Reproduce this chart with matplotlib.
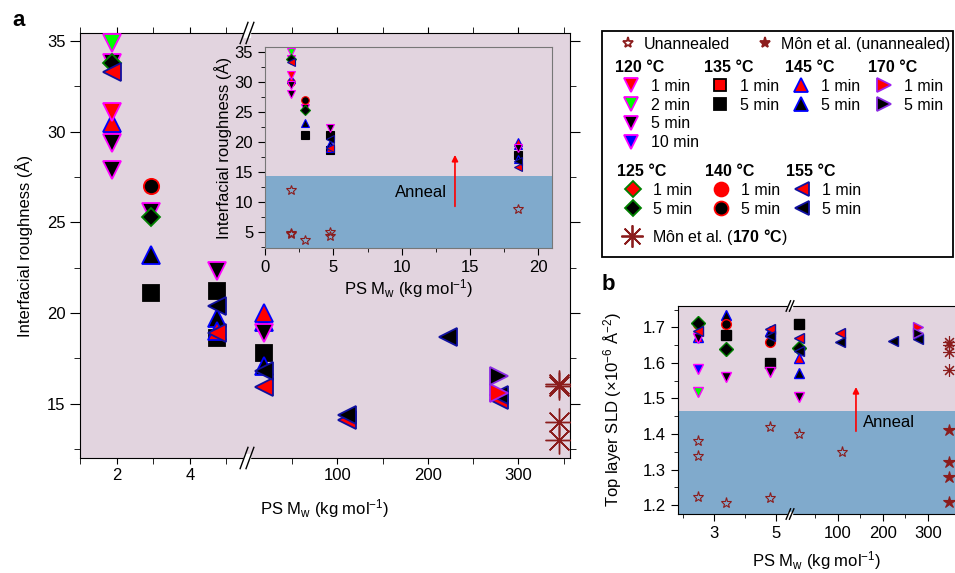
import numpy as np
import matplotlib
matplotlib.use('Agg')
import matplotlib.pyplot as plt
from matplotlib.lines import Line2D
from matplotlib.patches import Rectangle
from matplotlib.ticker import FixedLocator, NullFormatter

plt.rcParams['font.family'] = ['Liberation Sans', 'DejaVu Sans']
plt.rcParams['mathtext.fontset'] = 'custom'
plt.rcParams['mathtext.rm'] = 'Liberation Sans'
plt.rcParams['mathtext.it'] = 'Liberation Sans:italic'
plt.rcParams['mathtext.bf'] = 'Liberation Sans:bold'
plt.rcParams['font.size'] = 12

W, H = 955, 573
PINK = '#e2d4df'
BLUE = '#80aacc'
DRED = '#8b1c1c'

# ---------------- panel a : interfacial roughness (Å) vs PS Mw (kg/mol)
a_120_1_x = [1.87];  a_120_1_y = [31.1]
a_120_2_x = [1.87];  a_120_2_y = [34.9]
a_120_5_x = [1.87, 1.87, 1.87, 2.93, 4.73, 18.5]
a_120_5_y = [33.8, 29.4, 27.9, 25.6, 22.3, 18.9]
a_125_5_x = [1.87, 2.93];  a_125_5_y = [33.8, 25.3]
a_140_1_x = [1.87];  a_140_1_y = [30.0]
a_140_5_x = [2.93];  a_140_5_y = [27.0]
a_135_5_x = [2.93, 4.73, 4.73, 18.5];  a_135_5_y = [21.1, 21.2, 18.6, 17.8]
a_145_1_x = [1.87, 4.73, 18.5];  a_145_1_y = [30.5, 19.0, 20.0]
a_145_5_x = [2.93, 4.73, 18.5, 18.5];  a_145_5_y = [23.2, 19.7, 19.5, 17.1]
a_155_1_x = [1.87, 4.73, 18.5, 110, 278];  a_155_1_y = [33.3, 18.9, 15.9, 14.1, 15.2]
a_155_5_x = [4.73, 18.5, 110, 222, 278];  a_155_5_y = [20.4, 16.8, 14.35, 18.7, 15.5]
a_170_1_x = [278];  a_170_1_y = [15.6]
a_170_5_x = [278];  a_170_5_y = [16.5]
a_mon_x = [345, 345, 345, 345];  a_mon_y = [16.1, 16.0, 14.0, 13.0]
# unannealed (inset only)
a_un_x = [1.87, 1.87, 1.87, 2.93, 4.73, 4.73, 18.5]
a_un_y = [12.0, 4.9, 4.7, 3.6, 5.0, 4.3, 8.8]

# ---------------- panel b : top layer SLD (1e-6 Å^-2)
b_120_2_x = [2.5];  b_120_2_y = [1.517]
b_120_5_x = [2.5, 3.38, 4.8, 13.5];  b_120_5_y = [1.669, 1.560, 1.575, 1.505]
b_120_10_x = [2.5];  b_120_10_y = [1.582]
b_125_5_x = [2.5, 3.38, 13.5];  b_125_5_y = [1.711, 1.638, 1.641]
b_140_1_x = [2.5];  b_140_1_y = [1.708]
b_140_5_x = [3.38, 4.8];  b_140_5_y = [1.709, 1.660]
b_135_5_x = [3.38, 4.8, 13.5];  b_135_5_y = [1.678, 1.599, 1.709]
b_145_1_x = [2.5, 13.5];  b_145_1_y = [1.673, 1.615]
b_145_5_x = [3.38, 4.8, 13.5];  b_145_5_y = [1.736, 1.690, 1.571]
b_155_1_x = [2.5, 4.8, 13.5, 104];  b_155_1_y = [1.690, 1.694, 1.671, 1.683]
b_155_5_x = [4.8, 13.5, 104, 223, 278];  b_155_5_y = [1.676, 1.633, 1.660, 1.662, 1.666]
b_170_1_x = [278];  b_170_1_y = [1.702]
b_170_5_x = [278];  b_170_5_y = [1.683]
b_un_x = [2.5, 2.5, 2.5, 3.38, 4.8, 4.8, 13.5, 110]
b_un_y = [1.379, 1.339, 1.222, 1.206, 1.421, 1.219, 1.40, 1.348]
b_monun_x = [347, 347, 347, 347];  b_monun_y = [1.41, 1.32, 1.28, 1.21]
b_mon_x = [347, 347, 347, 347];  b_mon_y = [1.66, 1.65, 1.63, 1.58]

STY = {
    '120_1': dict(marker='v', mfc='#ff0000', mec='#ff00ff'),
    '120_2': dict(marker='v', mfc='#00ff00', mec='#ff00ff'),
    '120_5': dict(marker='v', mfc='black', mec='#ff00ff'),
    '120_10': dict(marker='v', mfc='#0000ff', mec='#ff00ff'),
    '135_1': dict(marker='s', mfc='#ff0000', mec='black'),
    '135_5': dict(marker='s', mfc='black', mec='black'),
    '145_1': dict(marker='^', mfc='#ff0000', mec='#0000ff'),
    '145_5': dict(marker='^', mfc='black', mec='#0000ff'),
    '170_1': dict(marker='>', mfc='#ff0000', mec='#a020f0'),
    '170_5': dict(marker='>', mfc='black', mec='#8a2be2'),
    '125_1': dict(marker='D', mfc='#ff0000', mec='#008000'),
    '125_5': dict(marker='D', mfc='black', mec='#008000'),
    '140_1': dict(marker='o', mfc='#ff0000', mec='#ff0000'),
    '140_5': dict(marker='o', mfc='black', mec='#ff0000'),
    '155_1': dict(marker='<', mfc='#ff0000', mec='#1010a0'),
    '155_5': dict(marker='<', mfc='black', mec='#1010a0'),
    'un': dict(marker='*', mfc='none', mec=DRED),
    'monun': dict(marker='*', mfc=DRED, mec=DRED),
    'mon': dict(marker=(8, 2, 0), mfc=DRED, mec=DRED),
}
SIZE_A = {'v': 13, '^': 13, '<': 13, '>': 13, 's': 11, 'D': 9, 'o': 11}


def pts(ax, x, y, key, ms, mew=1.3):
    st = STY[key]
    ax.plot(x, y, ls='none', ms=ms, mew=mew, zorder=3, **st)


def broken(b, c, r):
    def fwd(x):
        x = np.asarray(x, dtype=float)
        return np.where(x <= b, x, c + x * r)

    def inv(y):
        y = np.asarray(y, dtype=float)
        return np.where(y <= b, y, np.maximum((y - c) / r, b))
    return fwd, inv


def break_marks(ax, xf):
    for yf in (0, 1):
        ax.add_patch(Rectangle((xf - 0.006, yf - 0.01), 0.012, 0.02, transform=ax.transAxes,
                               color='white', clip_on=False, zorder=5))
        for dx in (-0.006, 0.006):
            ax.plot([xf + dx - 0.008, xf + dx + 0.008], [yf - 0.025, yf + 0.025],
                    transform=ax.transAxes, color='black', lw=1, clip_on=False, zorder=6)


fig = plt.figure(figsize=(W / 100, H / 100), dpi=100)

# ---------------- main panel a
ax = fig.add_axes([80 / W, 1 - 458 / H, 490 / W, 425 / H])
ax.set_facecolor(PINK)
ax.set_xscale('function', functions=broken(5.5, 5.56, 0.02471))
ax.set_xlim(1, 357)
ax.set_ylim(12.0, 35.45)
ax.xaxis.set_major_locator(FixedLocator([2, 4, 100, 200, 300]))
ax.xaxis.set_minor_locator(FixedLocator([1, 3, 5, 50, 150, 250, 350]))
ax.xaxis.set_minor_formatter(NullFormatter())
ax.set_xticklabels(['2', '4', '100', '200', '300'])
ax.yaxis.set_major_locator(FixedLocator([15, 20, 25, 30, 35]))
ax.yaxis.set_minor_locator(FixedLocator([12.5, 17.5, 22.5, 27.5, 32.5]))
ax.tick_params(which='both', top=True, right=True, labelsize=12)
ax.tick_params(axis='x', which='both', length=4)
ax.tick_params(axis='y', which='major', length=7)
ax.tick_params(axis='y', which='minor', length=4)
ax.set_xlabel(r'PS M$_\mathrm{w}$ (kg mol$^{-1}$)', fontsize=12, labelpad=10)
ax.set_ylabel('Interfacial roughness (Å)', fontsize=12, labelpad=10)

pts(ax, a_135_5_x, a_135_5_y, '135_5', SIZE_A['s'])
pts(ax, a_140_1_x, a_140_1_y, '140_1', SIZE_A['o'])
pts(ax, a_145_5_x, a_145_5_y, '145_5', SIZE_A['^'])
pts(ax, a_145_1_x, a_145_1_y, '145_1', SIZE_A['^'])
pts(ax, a_120_5_x, a_120_5_y, '120_5', SIZE_A['v'])
pts(ax, a_120_1_x, a_120_1_y, '120_1', SIZE_A['v'])
pts(ax, a_120_2_x, a_120_2_y, '120_2', SIZE_A['v'])
pts(ax, a_125_5_x, a_125_5_y, '125_5', SIZE_A['D'])
pts(ax, a_140_5_x, a_140_5_y, '140_5', SIZE_A['o'])
pts(ax, a_155_1_x, a_155_1_y, '155_1', SIZE_A['<'])
pts(ax, a_155_5_x, a_155_5_y, '155_5', SIZE_A['<'])
pts(ax, a_170_1_x, a_170_1_y, '170_1', SIZE_A['>'])
pts(ax, a_170_5_x, a_170_5_y, '170_5', SIZE_A['>'])
pts(ax, a_mon_x, a_mon_y, 'mon', 20, mew=1.0)
break_marks(ax, (247 - 80) / 490)
fig.text(12 / W, 1 - 20 / H, 'a', fontsize=16, fontweight='bold', va='center')

# ---------------- inset
axi = fig.add_axes([265 / W, 1 - 248 / H, 287 / W, 201 / H])
axi.set_facecolor(PINK)
axi.axhspan(0, 14.3, color=BLUE, lw=0, zorder=0)
axi.set_xlim(0, 21)
axi.set_ylim(2.33, 35.8)
axi.xaxis.set_major_locator(FixedLocator([0, 5, 10, 15, 20]))
axi.xaxis.set_minor_locator(FixedLocator(np.arange(2.5, 21, 5)))
axi.yaxis.set_major_locator(FixedLocator([5, 10, 15, 20, 25, 30, 35]))
axi.yaxis.set_minor_locator(FixedLocator(np.arange(2.5, 36, 5)))
axi.tick_params(which='both', labelsize=12)
axi.tick_params(which='major', length=5)
axi.tick_params(which='minor', length=3)
for s in axi.spines.values():
    s.set_color('#777777')
axi.set_xlabel(r'PS M$_\mathrm{w}$ (kg mol$^{-1}$)', fontsize=12, labelpad=2)
axi.set_ylabel('Interfacial roughness (Å)', fontsize=12, labelpad=2)
for xs, ys, k in [(a_135_5_x, a_135_5_y, '135_5'), (a_140_1_x, a_140_1_y, '140_1'),
                  (a_145_5_x, a_145_5_y, '145_5'), (a_145_1_x, a_145_1_y, '145_1'),
                  (a_120_5_x, a_120_5_y, '120_5'), (a_120_1_x, a_120_1_y, '120_1'),
                  (a_120_2_x, a_120_2_y, '120_2'), (a_125_5_x, a_125_5_y, '125_5'),
                  (a_140_5_x, a_140_5_y, '140_5'), (a_155_1_x, a_155_1_y, '155_1'),
                  (a_155_5_x, a_155_5_y, '155_5')]:
    pts(axi, xs, ys, k, 5.5, mew=0.8)
pts(axi, a_un_x, a_un_y, 'un', 7, mew=0.8)
axi.annotate('', xy=(13.9, 18.3), xytext=(13.9, 8.8),
             arrowprops=dict(arrowstyle='-|>', color='red', lw=1.2, mutation_scale=9))
axi.text(11.4, 11.5, 'Anneal', fontsize=12, ha='center', va='center')

# ---------------- panel b
axb = fig.add_axes([678 / W, 1 - 514 / H, 277 / W, 208 / H])
axb.set_facecolor(PINK)
axb.axhspan(1.0, 1.466, color=BLUE, lw=0, zorder=0)
axb.set_xscale('function', functions=broken(5.45, 5.548, 0.01452))
axb.set_xlim(1.84, 360)
axb.set_ylim(1.175, 1.76)
axb.xaxis.set_major_locator(FixedLocator([3, 5, 100, 200, 300]))
axb.xaxis.set_minor_locator(FixedLocator([2, 4, 50, 150, 250]))
axb.xaxis.set_minor_formatter(NullFormatter())
axb.set_xticklabels(['3', '5', '100', '200', '300'])
axb.yaxis.set_major_locator(FixedLocator([1.2, 1.3, 1.4, 1.5, 1.6, 1.7]))
axb.yaxis.set_minor_locator(FixedLocator([1.25, 1.35, 1.45, 1.55, 1.65, 1.75]))
axb.tick_params(which='both', labelsize=12)
axb.tick_params(which='major', length=5)
axb.tick_params(which='minor', length=3)
axb.spines['right'].set_visible(False)
axb.set_xlabel(r'PS M$_\mathrm{w}$ (kg mol$^{-1}$)', fontsize=12, labelpad=6)
axb.set_ylabel(r'Top layer SLD ($\times$10$^{-6}$ Å$^{-2}$)', fontsize=12, labelpad=14)
for xs, ys, k in [(b_135_5_x, b_135_5_y, '135_5'), (b_140_1_x, b_140_1_y, '140_1'),
                  (b_125_5_x, b_125_5_y, '125_5'), (b_145_1_x, b_145_1_y, '145_1'),
                  (b_145_5_x, b_145_5_y, '145_5'), (b_120_5_x, b_120_5_y, '120_5'),
                  (b_120_2_x, b_120_2_y, '120_2'), (b_120_10_x, b_120_10_y, '120_10'),
                  (b_140_5_x, b_140_5_y, '140_5'), (b_155_1_x, b_155_1_y, '155_1'),
                  (b_155_5_x, b_155_5_y, '155_5'), (b_170_1_x, b_170_1_y, '170_1'),
                  (b_170_5_x, b_170_5_y, '170_5')]:
    pts(axb, xs, ys, k, 7, mew=1.0)
pts(axb, b_un_x, b_un_y, 'un', 8, mew=0.8)
pts(axb, b_monun_x, b_monun_y, 'monun', 9, mew=0.8)
pts(axb, b_mon_x, b_mon_y, 'mon', 9, mew=0.8)
axb.annotate('', xy=(140, 1.54), xytext=(140, 1.40),
             arrowprops=dict(arrowstyle='-|>', color='red', lw=1.2, mutation_scale=9))
axb.text(155, 1.432, 'Anneal', fontsize=12, ha='left', va='center')
break_marks(axb, (790 - 678) / 277)
fig.text(602 / W, 1 - 285 / H, 'b', fontsize=16, fontweight='bold', va='center')

# ---------------- legend
def h(key, ms=10):
    return Line2D([], [], ls='none', ms=ms, mew=1.3, **STY[key])


LEG = dict(loc='upper left', frameon=False, borderpad=0, borderaxespad=0,
           handlelength=2.0, handletextpad=0.25, labelspacing=0.24, fontsize=11.5,
           alignment='left', title_fontproperties={'weight': 'bold', 'size': 11.5})


def group(handles, labels, x, y, title=None, **kw):
    opts = dict(LEG)
    opts.update(kw)
    fig.legend(handles, labels, title=title, bbox_to_anchor=(x / W, 1 - y / H), **opts)


group([h('un', 8), h('monun', 8)], ['Unannealed', 'Môn et al. (unannealed)'], 612, 37,
      ncol=2, columnspacing=1.2, handletextpad=0.0)
group([h('120_1'), h('120_2'), h('120_5'), h('120_10')],
      ['1 min', '2 min', '5 min', '10 min'], 615, 60, title='120 °C')
group([h('135_1', 9), h('135_5', 9)], ['1 min', '5 min'], 704, 60, title='135 °C')
group([h('145_1'), h('145_5')], ['1 min', '5 min'], 785, 60, title='145 °C')
group([h('170_1'), h('170_5')], ['1 min', '5 min'], 868, 60, title='170 °C')
group([h('125_1', 8), h('125_5', 8)], ['1 min', '5 min'], 617, 164, title='125 °C')
group([h('140_1'), h('140_5')], ['1 min', '5 min'], 705, 164, title='140 °C')
group([h('155_1'), h('155_5')], ['1 min', '5 min'], 786, 164, title='155 °C')
group([h('mon', 16)], [r'Môn et al. ($\mathbf{170\ °C}$)'], 616, 227)
fig.add_artist(Rectangle((602 / W, 1 - 257 / H), 351 / W, 226 / H, transform=fig.transFigure,
                         fill=False, lw=1.3, ec='black'))

fig.savefig('out.png', dpi=100)
